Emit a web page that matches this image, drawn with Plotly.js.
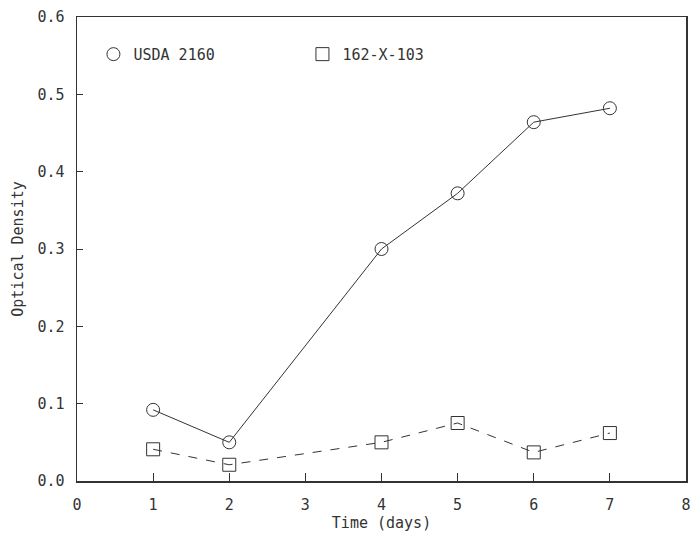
<!DOCTYPE html>
<html><head><meta charset="utf-8">
<script src="https://cdn.plot.ly/plotly-3.0.1.min.js"></script>
<style>html,body{margin:0;padding:0;background:#fff}#c{width:692px;height:537px}</style>
</head><body><div id="c"></div>
<script>
const days = [1, 2, 4, 5, 6, 7];
const usda2160 = [0.092, 0.050, 0.300, 0.372, 0.464, 0.482];
const x162 = [0.041, 0.021, 0.050, 0.075, 0.037, 0.062];
const seriesNames = ["USDA 2160", "162-X-103"];
const xTicks = [0, 1, 2, 3, 4, 5, 6, 7, 8];
const yTicks = [0.0, 0.1, 0.2, 0.3, 0.4, 0.5, 0.6];

const ink = '#333';
const fnt = {family: 'DejaVu Sans Mono, Liberation Mono, monospace', size: 15, color: ink};

const mk = [
  {symbol: 'circle-open', size: 13, color: ink, line: {width: 1}},
  {symbol: 'square-open', size: 13, color: ink, line: {width: 1}}
];
const traces = [
  {x: days, y: usda2160, name: seriesNames[0], mode: 'lines+markers', showlegend: false,
   line: {color: ink, width: 1}, marker: mk[0]},
  {x: days, y: x162, name: seriesNames[1], mode: 'lines+markers', showlegend: false,
   line: {color: ink, width: 1, dash: 'dash'}, marker: mk[1]},
  {x: [null], y: [null], name: seriesNames[0], mode: 'markers', marker: mk[0]},
  {x: [null], y: [null], name: seriesNames[1], mode: 'markers', marker: mk[1]}
];
const layout = {
  width: 692, height: 537,
  margin: {l: 77, r: 6, t: 17, b: 56},
  paper_bgcolor: '#fff', plot_bgcolor: '#fff',
  font: fnt,
  showlegend: true,
  legend: {orientation: 'h', x: 0.027, y: 0.955, xanchor: 'left', yanchor: 'top',
           font: fnt, itemwidth: 30, bgcolor: 'rgba(0,0,0,0)', entrywidth: 164},
  xaxis: {range: [0, 8], tickvals: xTicks, ticktext: xTicks.map(String), ticks: 'inside', ticklen: 8,
          tickcolor: ink, showline: true, linecolor: ink, linewidth: 1.5, mirror: true,
          showgrid: false, zeroline: false, tickfont: fnt, ticklabelstandoff: 9,
          title: {text: 'Time (days)', font: fnt, standoff: 2}},
  yaxis: {range: [0, 0.6], tickvals: yTicks, ticktext: yTicks.map(v => v.toFixed(1)), ticks: 'inside', ticklen: 6,
          tickcolor: ink, showline: true, linecolor: ink, linewidth: 1.5, mirror: true,
          showgrid: false, zeroline: false, tickfont: fnt, ticklabelstandoff: 8,
          title: {text: 'Optical Density', font: fnt, standoff: 10}}
};
Plotly.newPlot('c', traces, layout, {staticPlot: true, displayModeBar: false});
</script></body></html>
